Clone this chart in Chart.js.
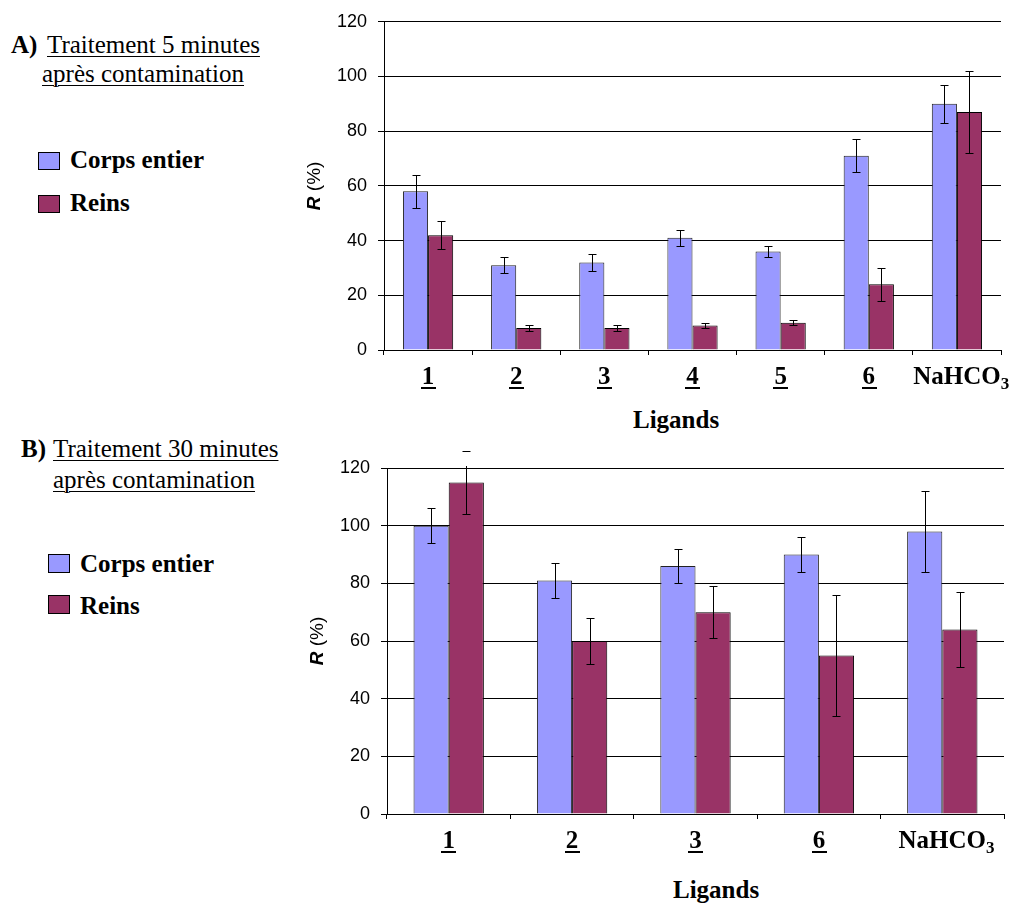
<!DOCTYPE html>
<html>
<head>
<meta charset="utf-8">
<script src="https://cdn.jsdelivr.net/npm/chart.js@4"></script>
<style>
  body { margin: 0; background: #fff; }
  #page { position: relative; width: 1016px; height: 903px; overflow: hidden; }
  .txt { position: absolute; font-family: "Liberation Serif", "Times New Roman", serif; font-size: 25px; line-height: 25px; color: #000; white-space: nowrap; }
  .b { font-weight: bold; }
  .u { text-decoration: underline; text-decoration-thickness: 1px; text-underline-offset: 3px; }
  .sq { position: absolute; border: 1px solid #000; box-sizing: border-box; }
  canvas { position: absolute; }
</style>
</head>
<body>
<div id="page">
  <!-- panel A texts -->
  <div class="txt b" style="left:11px; top:32px;">A)</div>
  <div class="txt u" style="left:47px; top:32px;">Traitement 5 minutes</div>
  <div class="txt u" style="left:42px; top:61px;">après contamination</div>
  <div class="sq" style="left:38px; top:152px; width:22px; height:18px; background:#9999FF;"></div>
  <div class="txt b" style="left:70px; top:147px;">Corps entier</div>
  <div class="sq" style="left:38px; top:195px; width:22px; height:18px; background:#993366;"></div>
  <div class="txt b" style="left:70px; top:190px;">Reins</div>
  <div class="txt b" style="left:633px; top:407px;">Ligands</div>

  <!-- panel B texts -->
  <div class="txt b" style="left:21px; top:436px;">B)</div>
  <div class="txt u" style="left:53px; top:436px;">Traitement 30 minutes</div>
  <div class="txt u" style="left:53px; top:467px;">après contamination</div>
  <div class="sq" style="left:48px; top:554px; width:22px; height:19px; background:#9999FF;"></div>
  <div class="txt b" style="left:80px; top:551px;">Corps entier</div>
  <div class="sq" style="left:48px; top:595px; width:22px; height:19px; background:#993366;"></div>
  <div class="txt b" style="left:80px; top:593px;">Reins</div>
  <div class="txt b" style="left:673px; top:877px;">Ligands</div>

  <canvas id="chartA" width="716" height="440" style="left:300px; top:0px;"></canvas>
  <canvas id="chartB" width="716" height="463" style="left:300px; top:440px;"></canvas>
</div>

<script>
// Panel A - treatment 5 minutes after contamination
const ligandsA = ["1", "2", "3", "4", "5", "6", "NaHCO3"];
const corpsA = [58, 31, 32, 41, 36, 71, 90];
const corpsErrA = [6, 3, 3, 3, 2, 6, 7];
const reinsA = [42, 8, 8, 9, 10, 24, 87];
const reinsErrA = [5, 1.2, 1, 0.9, 1, 6, 15];

// Panel B - treatment 30 minutes after contamination
const ligandsB = ["1", "2", "3", "6", "NaHCO3"];
const corpsB = [100, 81, 86, 90, 98];
const corpsErrB = [6, 6, 6, 6, 14];
const reinsB = [115, 60, 70, 55, 64];
const reinsErrB = [11, 8, 9, 21, 13];

const yTicks = [0, 20, 40, 60, 80, 100, 120];

const blue = "#9999FF";
const plum = "#993366";

// error bars on top of the bars
const errorBars = {
  id: "errorBars",
  afterDatasetsDraw(chart) {
    const ctx = chart.ctx;
    const y = chart.scales.y;
    const top = chart.chartArea.top;
    chart.data.datasets.forEach((ds, di) => {
      const meta = chart.getDatasetMeta(di);
      meta.data.forEach((bar, i) => {
        const v = ds.data[i];
        const e = ds.errors[i];
        const yt = Math.round(y.getPixelForValue(v + e)) + 0.5;
        const yb = Math.round(y.getPixelForValue(v - e)) + 0.5;
        const x = Math.round(bar.x) + 0.5;
        ctx.save();
        ctx.strokeStyle = "#000";
        ctx.lineWidth = 1;
        ctx.beginPath();
        ctx.moveTo(x, Math.max(yt, top - 2));
        ctx.lineTo(x, yb);
        ctx.moveTo(x - 4, yt);
        ctx.lineTo(x + 4, yt);
        ctx.moveTo(x - 4, yb);
        ctx.lineTo(x + 4, yb);
        ctx.stroke();
        ctx.restore();
      });
    });
  }
};

// category labels: bold, underlined numbers, NaHCO3 with subscript
const ligandLabels = {
  id: "ligandLabels",
  afterDraw(chart) {
    const ctx = chart.ctx;
    const xs = chart.scales.x;
    const yb = chart.chartArea.bottom + 34;
    ctx.save();
    ctx.fillStyle = "#000";
    ctx.textBaseline = "alphabetic";
    chart.data.labels.forEach((lab, i) => {
      const x = xs.getPixelForValue(i);
      ctx.font = "bold 25px 'Liberation Serif', 'Times New Roman', serif";
      if (lab === "NaHCO3") {
        const main = "NaHCO";
        const w = ctx.measureText(main).width;
        ctx.textAlign = "left";
        ctx.fillText(main, x - w / 2, yb);
        ctx.font = "bold 17px 'Liberation Serif', 'Times New Roman', serif";
        ctx.fillText("3", x + w / 2, yb + 5);
      } else {
        const w = ctx.measureText(lab).width;
        ctx.textAlign = "center";
        ctx.fillText(lab, x, yb);
        ctx.fillRect(Math.round(x - w / 2 - 1), yb + 3, Math.round(w + 2), 2);
      }
    });
    ctx.restore();
  }
};

// y axis title "R (%)" with italic bold R
const yTitle = {
  id: "yTitle",
  afterDraw(chart, args, opts) {
    const ctx = chart.ctx;
    const cy = (chart.chartArea.top + chart.chartArea.bottom) / 2;
    ctx.save();
    ctx.translate(opts.x, cy);
    ctx.rotate(-Math.PI / 2);
    ctx.fillStyle = "#000";
    ctx.textBaseline = "middle";
    ctx.textAlign = "left";
    const f1 = "italic bold 19px 'Liberation Sans', Arial, sans-serif";
    const f2 = "19px 'Liberation Sans', Arial, sans-serif";
    ctx.font = f1;
    const w1 = ctx.measureText("R").width;
    ctx.font = f2;
    const w2 = ctx.measureText(" (%)").width;
    const x0 = -(w1 + w2) / 2;
    ctx.font = f1;
    ctx.fillText("R", x0, 0);
    ctx.font = f2;
    ctx.fillText(" (%)", x0 + w1, 0);
    ctx.restore();
  }
};

function makeChart(id, labels, corps, corpsErr, reins, reinsErr, pad, yWidth, xHeight, titleX) {
  const ctx = document.getElementById(id).getContext("2d");
  return new Chart(ctx, {
    type: "bar",
    data: {
      labels: labels,
      datasets: [
        {
          label: "Corps entier",
          data: corps,
          errors: corpsErr,
          backgroundColor: blue,
          borderColor: "#222",
          borderWidth: 1,
          barPercentage: 1,
          categoryPercentage: 0.57
        },
        {
          label: "Reins",
          data: reins,
          errors: reinsErr,
          backgroundColor: plum,
          borderColor: "#000",
          borderWidth: 1,
          barPercentage: 1,
          categoryPercentage: 0.57
        }
      ]
    },
    options: {
      responsive: false,
      animation: false,
      layout: { padding: pad },
      plugins: {
        legend: { display: false },
        tooltip: { enabled: false },
        yTitle: { x: titleX }
      },
      scales: {
        x: {
          ticks: { display: false },
          grid: {
            offset: true,
            drawOnChartArea: false,
            drawTicks: true,
            tickLength: 5,
            color: "#000"
          },
          border: { display: true, color: "#000", width: 1 },
          afterFit(scale) { scale.height = xHeight; }
        },
        y: {
          min: 0,
          max: 120,
          afterBuildTicks(scale) { scale.ticks = yTicks.map(v => ({ value: v })); },
          ticks: {
            color: "#000",
            padding: 11,
            font: { family: "'Liberation Sans', Arial, sans-serif", size: 18 }
          },
          grid: { color: "#000", lineWidth: 1, tickLength: 6 },
          border: { display: true, color: "#000", width: 1 },
          afterFit(scale) { scale.width = yWidth; }
        }
      }
    },
    plugins: [errorBars, ligandLabels, yTitle]
  });
}

makeChart("chartA", ligandsA, corpsA, corpsErrA, reinsA, reinsErrA,
  { top: 21, right: 15, left: 0, bottom: 0 }, 84, 90, 15);
makeChart("chartB", ligandsB, corpsB, corpsErrB, reinsB, reinsErrB,
  { top: 28, right: 12, left: 0, bottom: 0 }, 87, 89, 18);
</script>
</body>
</html>
